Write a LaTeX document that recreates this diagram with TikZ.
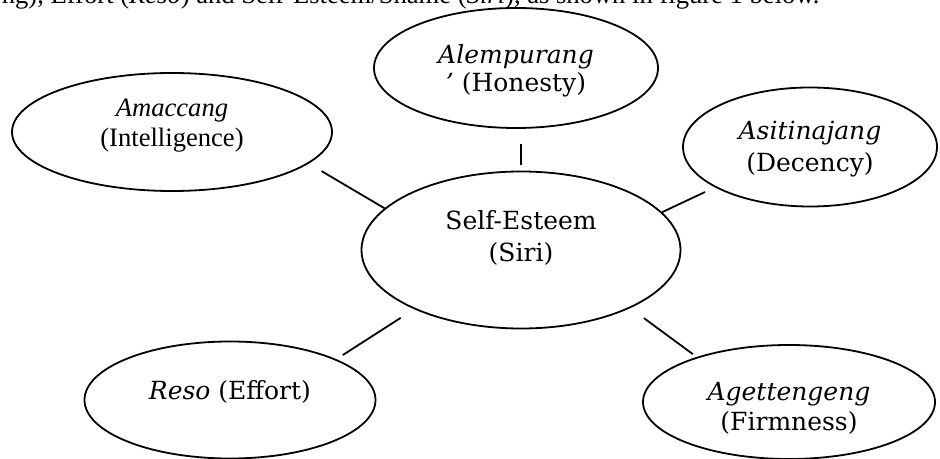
\documentclass[tikz,border=0pt]{standalone}
\usepackage{fontspec}
\setmainfont{Liberation Serif}
\newfontfamily\bookfont{DejaVu Serif}
\usetikzlibrary{shapes.geometric}

\begin{document}
\begin{tikzpicture}[
  x=0.5pt, y=-0.5pt,
  bubble/.style={ellipse, draw, line width=0.9pt, inner sep=0pt},
  txt/.style={align=center, inner sep=0pt, font=\bookfont\fontsize{12.5}{16}\selectfont},
  ttxt/.style={align=center, inner sep=0pt, font=\fontsize{13.3}{15}\selectfont},
  link/.style={line width=0.9pt},
]
\useasboundingbox (0,0) rectangle (940,459);
% sentence cut off at the top of the page
\node[inner sep=0pt, font=\fontsize{13.3}{15}\selectfont, anchor=base east] (lead) at (820,4)
  {ng), Effort (\textit{Reso}) and Self-Esteem/Shame (\textit{Siri}), as shown in figure 1 below.};
\node[bubble, minimum width=159.5pt, minimum height=78.5pt,
  label={[txt, yshift=6pt]center:{Self-Esteem\\(Siri)}}] (self) at (521,250) {};
\node[bubble, minimum width=142pt, minimum height=60pt,
  label={[txt, yshift=-1.5pt, font=\bookfont\fontsize{12.5}{14}\selectfont]center:{\textit{Alempurang}\\\textit{’} (Honesty)}}] (hon) at (516,68) {};
\node[bubble, minimum width=160pt, minimum height=59pt,
  label={[ttxt, yshift=3pt]center:{\textit{Amaccang}\\(Intelligence)}}] (intel) at (172,132) {};
\node[bubble, minimum width=127pt, minimum height=59.5pt,
  label={[txt, yshift=-1pt]center:{\textit{Asitinajang}\\(Decency)}}] (dec) at (810,147) {};
\node[bubble, minimum width=145.5pt, minimum height=58.5pt,
  label={[txt, yshift=4pt]center:{\textit{Reso} (Effort)}}] (reso) at (230,400) {};
\node[bubble, minimum width=146pt, minimum height=57pt,
  label={[txt, yshift=-3pt, font=\bookfont\fontsize{12.5}{15}\selectfont]center:{\textit{Agettengeng}\\(Firmness)}}] (firm) at (789,402) {};
% short strokes with gaps
\draw[link, shorten <=7.5pt] (intel.-13) -- (self.163);
\draw[link, shorten <=3pt, shorten >=7.5pt] (self.north) -- (self.north |- hon.south);
\draw[link, shorten <=5.5pt] (dec.-157) -- (self.15.6);
\draw[link, shorten <=3.8pt, shorten >=8pt] (reso.21) -- (self.209.6);
\draw[link, shorten <=2.4pt, shorten >=8.5pt] (firm.154.5) -- (self.-28.4);
\end{tikzpicture}
\end{document}
